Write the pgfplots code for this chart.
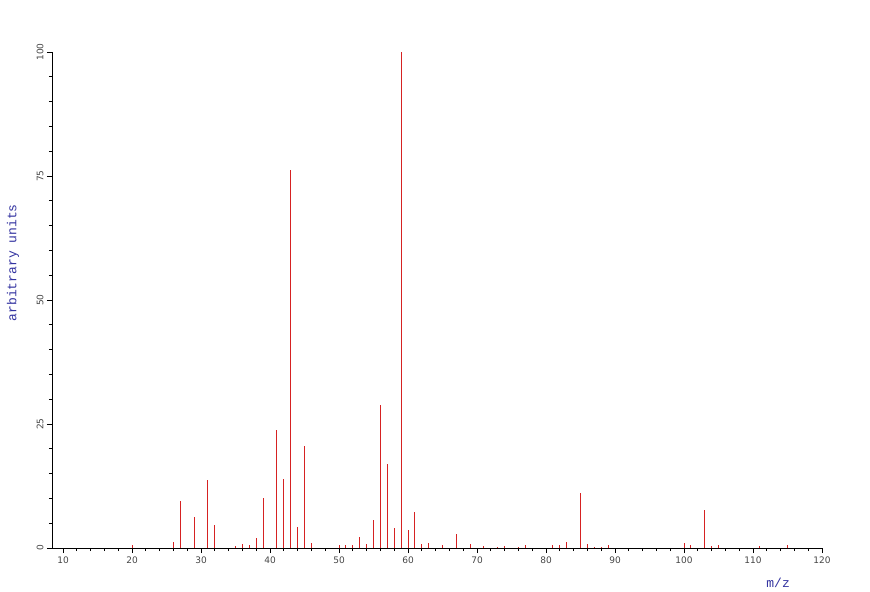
\documentclass[border=0pt]{standalone}
\usepackage{fontspec}
\setmainfont{DejaVu Sans}
\newfontfamily\monofont{Liberation Mono}
\usepackage{pgfplots}
\pgfplotsset{compat=1.18}

\definecolor{peak}{RGB}{214,34,34}
\definecolor{labelblue}{RGB}{51,51,160}
\definecolor{ticktext}{RGB}{70,70,70}

\begin{document}
\begin{tikzpicture}
\begin{axis}[
    name=ms,
    scale only axis,
    width=770pt, height=496pt,
    xmin=8.4, xmax=120, ymin=0, ymax=100,
    axis lines*=left,
    axis line style={black, line width=0.8pt},
    xtick={10,20,...,120}, minor x tick num=4,
    ytick={0,25,50,75,100}, minor y tick num=4,
    tick align=outside,
    major tick length=5pt, minor tick length=3pt,
    every tick/.style={black, line width=0.8pt},
    ticklabel style={font=\fontsize{9}{9}\selectfont, text=ticktext},
    yticklabel style={rotate=90, anchor=south},
    /pgf/number format/assume math mode=true,
    xlabel={\monofont m/z},
    ylabel={\monofont arbitrary units},
    label style={font=\fontsize{13}{13}\selectfont, text=labelblue},
    x label style={at={(axis description cs:0.943,-0.0706)}, anchor=center},
    y label style={at={(axis description cs:-0.0506,0.575)}, anchor=center},
]
% peak list: m/z, relative intensity
\addplot[ycomb, draw=peak, line width=0.9pt] coordinates {
    (20,0.7) (26,1.3) (27,9.5) (29,6.2) (31,13.7) (32,4.6)
    (35,0.4) (36,0.8) (37,0.6) (38,2.0) (39,10.0)
    (41,23.8) (42,14.0) (43,76.2) (44,4.2) (45,20.5) (46,1.0)
    (50,0.6) (51,0.7) (52,0.7) (53,2.2) (54,0.8) (55,5.6)
    (56,28.8) (57,17.0) (58,4.0) (59,100) (60,3.7) (61,7.2)
    (62,0.8) (63,1.0) (65,0.6) (67,2.8) (69,0.9) (71,0.5)
    (73,0.3) (74,0.4) (76,0.3) (77,0.7)
    (81,0.6) (82,0.7) (83,1.3) (85,11.0) (86,0.8) (87,0.3) (88,0.3) (89,0.6)
    (100,1.0) (101,0.6) (103,7.6) (104,0.4) (105,0.6)
    (111,0.5) (115,0.6)
};
\end{axis}
\useasboundingbox ([xshift=-52pt,yshift=-42pt]ms.south west) rectangle ([xshift=48pt,yshift=52pt]ms.north east);
\end{tikzpicture}
\end{document}
